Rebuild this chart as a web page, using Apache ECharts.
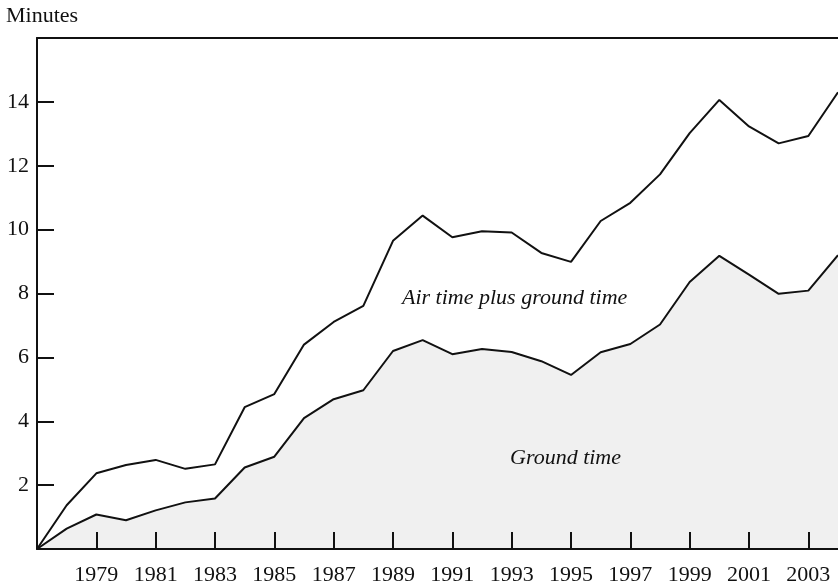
<!DOCTYPE html>
<html>
<head>
<meta charset="utf-8">
<script src="https://cdn.jsdelivr.net/npm/echarts@6/dist/echarts.min.js"></script>
<style>html,body{margin:0;padding:0;background:#fff;}#c{width:838px;height:587px;}</style>
</head>
<body>
<div id="c"></div>
<script>
const years = [1977,1978,1979,1980,1981,1982,1983,1984,1985,1986,1987,1988,1989,1990,1991,1992,1993,1994,1995,1996,1997,1998,1999,2000,2001,2002,2003,2004];
const airPlusGround = [0,1.37,2.37,2.63,2.79,2.51,2.65,4.44,4.85,6.40,7.11,7.61,9.65,10.44,9.76,9.95,9.91,9.27,8.99,10.27,10.84,11.73,13.02,14.06,13.23,12.70,12.93,14.30];
const groundTime = [0,0.64,1.08,0.90,1.21,1.46,1.58,2.55,2.89,4.10,4.69,4.97,6.20,6.54,6.10,6.26,6.17,5.88,5.45,6.16,6.42,7.03,8.36,9.18,8.59,7.99,8.09,9.20];
const yTicks = [2,4,6,8,10,12,14];
const yTitle = 'Minutes';
const labelAir = 'Air time plus ground time';
const labelGround = 'Ground time';

const FONT = '"Liberation Serif", "DejaVu Serif", serif';
const showYear = (idx, val) => (Number(val) % 2 === 1 && Number(val) !== 1977);

const chart = echarts.init(document.getElementById('c'));
chart.setOption({
  animation: false,
  backgroundColor: '#fff',
  title: {
    text: yTitle, left: 1, top: 0,
    textStyle: {fontFamily: FONT, fontSize: 22, fontWeight: 'normal', color: '#111'}
  },
  grid: {left: 37, right: 0, top: 38, bottom: 38},
  xAxis: [{
    type: 'category', data: years.map(String), boundaryGap: false, z: 10,
    axisLine: {lineStyle: {color: '#111', width: 2}},
    axisTick: {inside: true, length: 17, interval: showYear, lineStyle: {color: '#111', width: 2}},
    axisLabel: {interval: showYear, margin: 15, fontFamily: FONT, fontSize: 22, color: '#111'},
    splitLine: {show: false}
  }, {
    type: 'category', data: years.map(String), boundaryGap: false, position: 'top', z: 10,
    axisLine: {show: true, lineStyle: {color: '#111', width: 2}},
    axisTick: {show: false}, axisLabel: {show: false}, splitLine: {show: false}
  }],
  yAxis: {
    type: 'value', min: 0, max: 16, interval: 2, z: 10,
    axisLine: {show: true, lineStyle: {color: '#111', width: 2}},
    axisTick: {show: true, inside: true, length: 17, lineStyle: {color: '#111', width: 2}},
    axisLabel: {margin: 8, fontFamily: FONT, fontSize: 22, color: '#111',
      formatter: v => yTicks.includes(v) ? String(v) : ''},
    splitLine: {show: false}
  },
  series: [{
    name: labelGround, type: 'line', data: groundTime, showSymbol: false, symbol: 'none',
    lineStyle: {color: '#111', width: 2}, areaStyle: {color: '#f0f0f0', opacity: 1},
    z: 2
  }, {
    name: labelAir, type: 'line', data: airPlusGround, showSymbol: false, symbol: 'none',
    lineStyle: {color: '#111', width: 2}, z: 3
  }],
  graphic: [{
    type: 'text', left: 402, top: 287, z: 10,
    style: {text: labelAir, fontFamily: FONT, fontStyle: 'italic', fontSize: 22, fill: '#111'}
  }, {
    type: 'text', left: 510, top: 447, z: 10,
    style: {text: labelGround, fontFamily: FONT, fontStyle: 'italic', fontSize: 22, fill: '#111'}
  }]
});
</script>
</body>
</html>
